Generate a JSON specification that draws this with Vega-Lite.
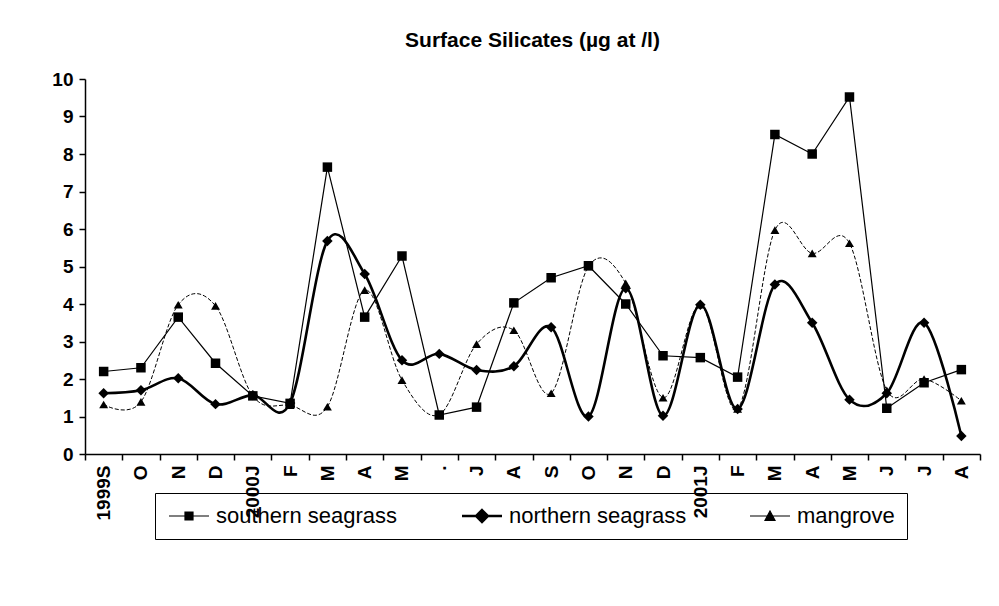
{
  "$schema": "https://vega.github.io/schema/vega-lite/v6.json",
  "width": 895,
  "height": 375,
  "autosize": {"type": "none"},
  "padding": {"left": 85, "top": 79, "right": 19, "bottom": 152},
  "background": "white",
  "title": {"text": "Surface Silicates (µg at /l)", "font": "Liberation Sans", "fontSize": 21, "fontWeight": "bold", "color": "black", "anchor": "middle", "offset": 19},
  "config": {
    "view": {"stroke": null},
    "axis": {"labelColor": "black", "domainColor": "black", "tickColor": "black", "labelFont": "Liberation Sans", "labelFontWeight": "bold", "grid": false, "title": null, "domainWidth": 1.5, "tickWidth": 1.5}
  },
  "data": {"values": [
    {"i":0,"series":"southern seagrass","v":2.2},{"i":1,"series":"southern seagrass","v":2.3},{"i":2,"series":"southern seagrass","v":3.65},{"i":3,"series":"southern seagrass","v":2.42},{"i":4,"series":"southern seagrass","v":1.55},{"i":5,"series":"southern seagrass","v":1.35},{"i":6,"series":"southern seagrass","v":7.65},{"i":7,"series":"southern seagrass","v":3.65},{"i":8,"series":"southern seagrass","v":5.28},{"i":9,"series":"southern seagrass","v":1.04},{"i":10,"series":"southern seagrass","v":1.25},{"i":11,"series":"southern seagrass","v":4.03},{"i":12,"series":"southern seagrass","v":4.7},{"i":13,"series":"southern seagrass","v":5.02},{"i":14,"series":"southern seagrass","v":4.0},{"i":15,"series":"southern seagrass","v":2.62},{"i":16,"series":"southern seagrass","v":2.57},{"i":17,"series":"southern seagrass","v":2.05},{"i":18,"series":"southern seagrass","v":8.52},{"i":19,"series":"southern seagrass","v":8.0},{"i":20,"series":"southern seagrass","v":9.52},{"i":21,"series":"southern seagrass","v":1.22},{"i":22,"series":"southern seagrass","v":1.9},{"i":23,"series":"southern seagrass","v":2.25},
    {"i":0,"series":"northern seagrass","v":1.62},{"i":1,"series":"northern seagrass","v":1.7},{"i":2,"series":"northern seagrass","v":2.02},{"i":3,"series":"northern seagrass","v":1.33},{"i":4,"series":"northern seagrass","v":1.57},{"i":5,"series":"northern seagrass","v":1.36},{"i":6,"series":"northern seagrass","v":5.68},{"i":7,"series":"northern seagrass","v":4.8},{"i":8,"series":"northern seagrass","v":2.5},{"i":9,"series":"northern seagrass","v":2.67},{"i":10,"series":"northern seagrass","v":2.24},{"i":11,"series":"northern seagrass","v":2.34},{"i":12,"series":"northern seagrass","v":3.38},{"i":13,"series":"northern seagrass","v":1.0},{"i":14,"series":"northern seagrass","v":4.42},{"i":15,"series":"northern seagrass","v":1.02},{"i":16,"series":"northern seagrass","v":3.98},{"i":17,"series":"northern seagrass","v":1.2},{"i":18,"series":"northern seagrass","v":4.52},{"i":19,"series":"northern seagrass","v":3.5},{"i":20,"series":"northern seagrass","v":1.45},{"i":21,"series":"northern seagrass","v":1.62},{"i":22,"series":"northern seagrass","v":3.5},{"i":23,"series":"northern seagrass","v":0.48},
    {"i":0,"series":"mangrove","v":1.32},{"i":1,"series":"mangrove","v":1.39},{"i":2,"series":"mangrove","v":3.98},{"i":3,"series":"mangrove","v":3.95},{"i":4,"series":"mangrove","v":1.55},{"i":5,"series":"mangrove","v":1.3},{"i":6,"series":"mangrove","v":1.26},{"i":7,"series":"mangrove","v":4.37},{"i":8,"series":"mangrove","v":1.97},{"i":9,"series":"mangrove","v":1.05},{"i":10,"series":"mangrove","v":2.93},{"i":11,"series":"mangrove","v":3.3},{"i":12,"series":"mangrove","v":1.62},{"i":13,"series":"mangrove","v":5.0},{"i":14,"series":"mangrove","v":4.55},{"i":15,"series":"mangrove","v":1.5},{"i":16,"series":"mangrove","v":3.98},{"i":17,"series":"mangrove","v":1.2},{"i":18,"series":"mangrove","v":5.97},{"i":19,"series":"mangrove","v":5.35},{"i":20,"series":"mangrove","v":5.62},{"i":21,"series":"mangrove","v":1.7},{"i":22,"series":"mangrove","v":2.0},{"i":23,"series":"mangrove","v":1.42}
  ]},
  "encoding": {
    "x": {"field": "i", "type": "ordinal", "bandPosition": 0.5,
      "scale": {"type": "band", "paddingInner": 0, "paddingOuter": 0},
      "axis": {"labelAngle": -90, "labelAlign": "right", "labelBaseline": "middle", "labelFontSize": 19, "tickBand": "extent", "tickSize": 6, "labelPadding": 5,
        "labelExpr": "['1999S','O','N','D','2000J','F','M','A','M','.','J','A','S','O','N','D','2001J','F','M','A','M','J','J','A'][datum.value]"}},
    "y": {"field": "v", "type": "quantitative", "scale": {"domain": [0, 10]},
      "axis": {"values": [0,1,2,3,4,5,6,7,8,9,10], "labelFontSize": 19, "tickSize": 6, "labelPadding": 6}}
  },
  "layer": [
    {"transform": [{"filter": "datum.series == 'southern seagrass'"}],
     "mark": {"type": "line", "strokeWidth": 1.2, "interpolate": "linear"},
     "encoding": {
       "color": {"field": "series", "type": "nominal",
         "scale": {"domain": ["southern seagrass", "northern seagrass", "mangrove"], "range": ["black", "black", "black"]},
         "legend": {"orient": "none", "legendX": 70, "legendY": 414, "direction": "horizontal", "columns": 3, "title": null,
           "strokeColor": "black", "padding": 12, "columnPadding": 60,
           "labelFont": "Liberation Sans", "labelFontSize": 22, "labelColor": "black", "labelLimit": 0, "labelOffset": 27,
           "symbolSize": 1600, "symbolType": "M-1,0H1",
           "encode": {"symbols": {"update": {
             "shape": {"signal": "datum.value == 'southern seagrass' ? 'M-0.45,0H1.55M0.35,-0.2H0.75V0.2H0.35Z' : datum.value == 'northern seagrass' ? 'M-0.45,0H1.55M0.55,-0.3L0.85,0L0.55,0.3L0.25,0Z' : 'M-0.45,0H1.55M0.55,-0.25L0.8,0.22L0.3,0.22Z'"},
             "size": {"value": 1600},
             "fill": {"value": "black"}, "stroke": {"value": "black"}, "opacity": {"value": 1}, "strokeDash": {"value": []},
             "strokeWidth": {"signal": "datum.value == 'northern seagrass' ? 2.4 : 1.2"}}}}}}
     }},
    {"transform": [{"filter": "datum.series == 'northern seagrass'"}],
     "mark": {"type": "line", "strokeWidth": 2.6, "interpolate": "cardinal"},
     "encoding": {"color": {"field": "series", "type": "nominal"}}},
    {"transform": [{"filter": "datum.series == 'mangrove'"}],
     "mark": {"type": "line", "strokeWidth": 1, "strokeDash": [4, 2], "interpolate": "cardinal"},
     "encoding": {"color": {"field": "series", "type": "nominal"}}},
    {"transform": [{"filter": "datum.series == 'southern seagrass'"}],
     "mark": {"type": "point", "filled": true, "opacity": 1, "shape": "square", "size": 90, "color": "black"}},
    {"transform": [{"filter": "datum.series == 'northern seagrass'"}],
     "mark": {"type": "point", "filled": true, "opacity": 1, "shape": "diamond", "size": 110, "color": "black"}},
    {"transform": [{"filter": "datum.series == 'mangrove'"}],
     "mark": {"type": "point", "filled": true, "opacity": 1, "shape": "triangle-up", "size": 80, "color": "black"}}
  ]
}
